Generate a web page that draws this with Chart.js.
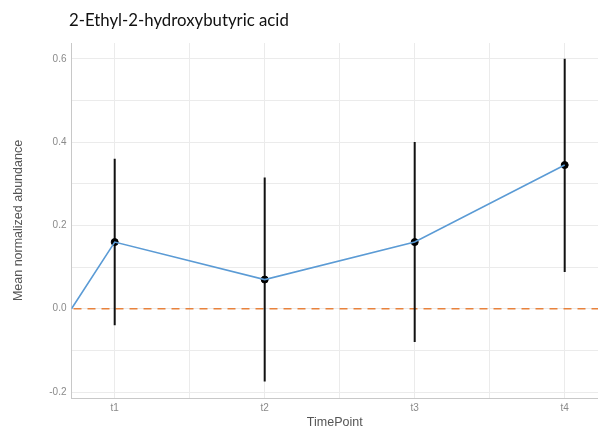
<!DOCTYPE html>
<html>
<head>
<meta charset="utf-8">
<script src="https://cdn.jsdelivr.net/npm/chart.js@4.4.1/dist/chart.umd.min.js"></script>
<style>
  html, body { margin: 0; padding: 0; background: #fff; }
  #wrap { position: relative; width: 598px; height: 427px; }
  #grafica { display: block; }
  #titulo {
    position: absolute; left: 69px; top: 9px;
    font-family: Lato, "Open Sans", sans-serif; font-size: 16.8px; color: #111;
    white-space: nowrap;
  }
</style>
</head>
<body>
<div id="wrap">
  <div id="titulo">2-Ethyl-2-hydroxybutyric acid</div>
  <canvas id="grafica" width="598" height="427"></canvas>
</div>
<script>
// datos
const timeLabels = ['t1', 't2', 't3', 't4'];
const timePos = [1, 2, 3, 4];
const means = [0.16, 0.07, 0.16, 0.345];
const upper = [0.36, 0.315, 0.40, 0.60];
const lower = [-0.04, -0.175, -0.08, 0.088];
// la linea arranca en el borde izquierdo con valor 0
const startX = 0.712;
const startY = 0;
const xMin = 0.712, xMax = 4.222;
const yMin = -0.2144, yMax = 0.638;
const yTicks = [-0.2, -0.1, 0, 0.1, 0.2, 0.3, 0.4, 0.5, 0.6];
const xTicks = [1, 1.5, 2, 2.5, 3, 3.5, 4];
const zeroLine = 0;

const lineData = [{ x: startX, y: startY }].concat(timePos.map((x, i) => ({ x: x, y: means[i] })));
const pointData = timePos.map((x, i) => ({ x: x, y: means[i] }));

// linea discontinua en cero y barras de error
const extras = {
  id: 'extras',
  beforeDatasetsDraw(chart) {
    const ctx = chart.ctx;
    const xs = chart.scales.x, ys = chart.scales.y;
    const area = chart.chartArea;
    ctx.save();
    ctx.beginPath();
    ctx.rect(area.left, area.top, area.right - area.left, area.bottom - area.top);
    ctx.clip();
    ctx.strokeStyle = '#e8823c';
    ctx.lineWidth = 1.6;
    ctx.setLineDash([8, 6]);
    const y0 = ys.getPixelForValue(zeroLine);
    ctx.beginPath();
    ctx.moveTo(area.left + 2, y0);
    ctx.lineTo(area.right, y0);
    ctx.stroke();
    ctx.setLineDash([]);
    ctx.strokeStyle = '#111';
    ctx.lineWidth = 2;
    timePos.forEach((t, i) => {
      const px = xs.getPixelForValue(t);
      ctx.beginPath();
      ctx.moveTo(px, ys.getPixelForValue(upper[i]));
      ctx.lineTo(px, ys.getPixelForValue(lower[i]));
      ctx.stroke();
    });
    ctx.restore();
  }
};

new Chart(document.getElementById('grafica'), {
  type: 'scatter',
  data: {
    datasets: [
      {
        type: 'line',
        data: lineData,
        borderColor: '#5b9bd5',
        borderWidth: 1.6,
        pointRadius: 0,
        tension: 0,
        order: 1
      },
      {
        data: pointData,
        backgroundColor: '#000',
        borderColor: '#000',
        pointRadius: 3.5,
        order: 2
      }
    ]
  },
  plugins: [extras],
  options: {
    responsive: false,
    animation: false,
    layout: { autoPadding: false, padding: { top: 43, right: 0, bottom: 0, left: 0 } },
    plugins: {
      legend: { display: false },
      tooltip: { enabled: false }
    },
    scales: {
      x: {
        type: 'linear',
        min: xMin,
        max: xMax,
        afterBuildTicks(scale) { scale.ticks = xTicks.map(v => ({ value: v })); },
        afterFit(scale) {
          scale.height = 29;
          scale.paddingLeft = 0;
          scale.paddingRight = 0;
        },
        grid: { color: '#ebebeb', lineWidth: 1, drawTicks: false },
        border: { display: true, color: '#c8c8c8', width: 1 },
        ticks: {
          padding: 4,
          autoSkip: false,
          maxRotation: 0,
          color: '#8a8a8a',
          font: { family: 'Liberation Sans, Arial, sans-serif', size: 10 },
          callback(v) {
            const i = timePos.indexOf(v);
            return i >= 0 ? timeLabels[i] : '';
          }
        },
        title: {
          display: true,
          text: 'TimePoint',
          color: '#555',
          padding: { top: 3, bottom: 0 },
          font: { family: 'Liberation Sans, Arial, sans-serif', size: 12.5, lineHeight: 0.75 }
        }
      },
      y: {
        min: yMin,
        max: yMax,
        afterBuildTicks(scale) { scale.ticks = yTicks.map(v => ({ value: v })); },
        afterFit(scale) {
          scale.width = 71.5;
          scale.paddingTop = 0;
          scale.paddingBottom = 0;
        },
        grid: { color: '#ebebeb', lineWidth: 1, drawTicks: false },
        border: { display: true, color: '#c8c8c8', width: 1 },
        ticks: {
          padding: 5,
          color: '#8a8a8a',
          font: { family: 'Liberation Sans, Arial, sans-serif', size: 10 },
          callback(v) {
            const r = Math.round(v * 10);
            return r % 2 === 0 ? (r / 10).toFixed(1) : '';
          }
        },
        title: {
          display: true,
          text: 'Mean normalized abundance',
          color: '#555',
          padding: { top: 11, bottom: 0 },
          font: { family: 'Liberation Sans, Arial, sans-serif', size: 12.5 }
        }
      }
    }
  }
});
</script>
</body>
</html>
